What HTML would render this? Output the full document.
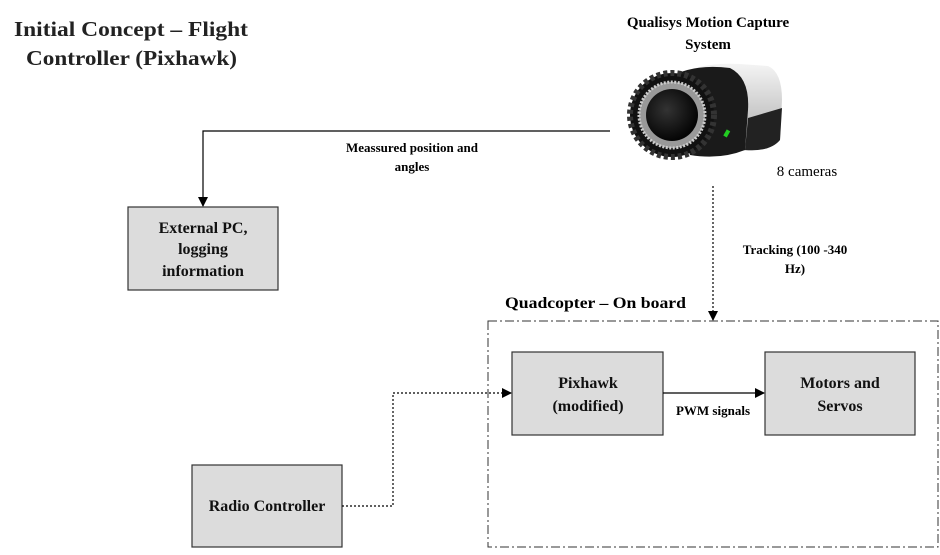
<!DOCTYPE html>
<html><head><style>
body{margin:0;background:#fff;}
svg{display:block;font-family:"Liberation Serif",serif;}
</style></head><body>
<svg width="940" height="555" viewBox="0 0 940 555" xmlns="http://www.w3.org/2000/svg">
<defs>
<marker id="a" markerWidth="10" markerHeight="10" refX="9" refY="5" orient="auto" markerUnits="userSpaceOnUse"><path d="M0,0 L10,5 L0,10 z" fill="#000"/></marker>
<radialGradient id="lens" cx="0.4" cy="0.4" r="0.6"><stop offset="0" stop-color="#333"/><stop offset="1" stop-color="#050505"/></radialGradient>
<linearGradient id="silver" x1="0" y1="0" x2="0" y2="1"><stop offset="0" stop-color="#f4f4f4"/><stop offset="1" stop-color="#aaa"/></linearGradient>
</defs>
<text x="14" y="36" font-size="21" font-weight="bold" fill="#222" textLength="234" lengthAdjust="spacingAndGlyphs">Initial Concept – Flight</text>
<text x="26" y="65" font-size="21" font-weight="bold" fill="#222" textLength="211" lengthAdjust="spacingAndGlyphs">Controller (Pixhawk)</text>
<text x="708" y="27" font-size="15" text-anchor="middle" font-weight="bold">Qualisys Motion Capture</text>
<text x="708" y="49" font-size="15" text-anchor="middle" font-weight="bold">System</text>
<!-- camera -->
<path d="M680,75 Q700,62 740,64 L768,66 Q782,72 782,100 L780,140 Q770,152 740,150 L690,150 Z" fill="url(#silver)"/>
<path d="M665,80 Q690,63 730,68 Q750,78 748,110 L745,150 Q720,160 690,155 Z" fill="#1a1a1a"/>
<path d="M748,118 L782,108 L780,140 Q770,152 745,150 Z" fill="#222"/>
<circle cx="672" cy="115" r="42" fill="#111" stroke="#333" stroke-width="6" stroke-dasharray="4 3"/>
<circle cx="672" cy="115" r="33" fill="#999" stroke="#ccc" stroke-width="3" stroke-dasharray="2 1.5"/>
<circle cx="672" cy="115" r="26" fill="url(#lens)"/>
<rect x="725" y="130" width="4" height="7" fill="#2c2" transform="rotate(30 727 133)"/>
<text x="807" y="176" font-size="15" text-anchor="middle">8 cameras</text>
<!-- measured line -->
<polyline points="610,131 203,131 203,206" fill="none" stroke="#000" stroke-width="1.2" marker-end="url(#a)"/>
<text x="412" y="152" font-size="13" text-anchor="middle" font-weight="bold">Meassured position and</text>
<text x="412" y="171" font-size="13" text-anchor="middle" font-weight="bold">angles</text>
<!-- tracking -->
<line x1="713" y1="186" x2="713" y2="320" stroke="#000" stroke-width="1.2" stroke-dasharray="2 2" marker-end="url(#a)"/>
<text x="795" y="254" font-size="13" text-anchor="middle" font-weight="bold">Tracking (100 -340</text>
<text x="795" y="273" font-size="13" text-anchor="middle" font-weight="bold">Hz)</text>
<text x="505" y="308" font-size="16" font-weight="bold" textLength="181" lengthAdjust="spacingAndGlyphs">Quadcopter – On board</text>
<rect x="488" y="321" width="450" height="226" fill="none" stroke="#333" stroke-width="1" stroke-dasharray="9 3 2 3"/>
<!-- boxes -->
<g fill="#dcdcdc" stroke="#333" stroke-width="1.2">
<rect x="128" y="207" width="150" height="83"/>
<rect x="512" y="352" width="151" height="83"/>
<rect x="765" y="352" width="150" height="83"/>
<rect x="192" y="465" width="150" height="82"/>
</g>
<g font-size="16" font-weight="bold" text-anchor="middle" fill="#111">
<text x="203" y="233">External PC,</text>
<text x="203" y="254">logging</text>
<text x="203" y="276">information</text>
<text x="588" y="388">Pixhawk</text>
<text x="588" y="411">(modified)</text>
<text x="840" y="388">Motors and</text>
<text x="840" y="411">Servos</text>
<text x="267" y="511">Radio Controller</text>
</g>
<line x1="663" y1="393" x2="764" y2="393" stroke="#000" stroke-width="1.2" marker-end="url(#a)"/>
<text x="713" y="415" font-size="13" text-anchor="middle" font-weight="bold">PWM signals</text>
<polyline points="342,506 393,506 393,393 511,393" fill="none" stroke="#000" stroke-width="1.2" stroke-dasharray="2 2" marker-end="url(#a)"/>
</svg>
</body></html>
